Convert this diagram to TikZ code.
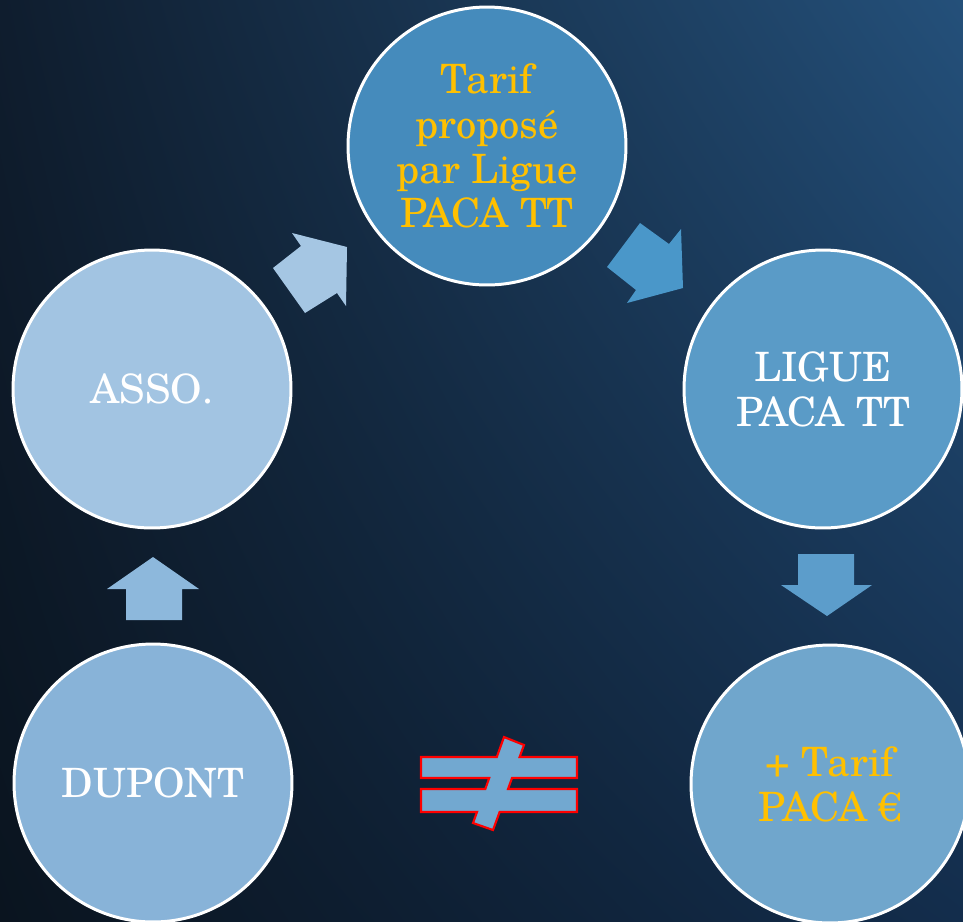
\documentclass[tikz,border=0pt]{standalone}
\usepackage{fontspec}
\setmainfont{TeX Gyre Schola}
\usetikzlibrary{positioning, shadings}

\definecolor{bgul}{HTML}{0F1D2E}
\definecolor{bgur}{HTML}{24507A}
\definecolor{bgll}{HTML}{0A141F}
\definecolor{bglr}{HTML}{132D4C}
\definecolor{gold}{HTML}{FFC000}
\definecolor{cTarif}{HTML}{458BBC}
\definecolor{cAsso}{HTML}{A2C4E2}
\definecolor{cLigue}{HTML}{5A9BC7}
\definecolor{cDupont}{HTML}{88B3D8}
\definecolor{cPaca}{HTML}{70A6CC}
\definecolor{aAsso}{HTML}{A5C6E3}
\definecolor{aTarif}{HTML}{4A97C9}
\definecolor{aLigue}{HTML}{5C9DCB}
\definecolor{aDupont}{HTML}{8DB8DC}
\definecolor{cNeq}{HTML}{72A8D0}

\tikzset{
  stage/.style={circle, draw=white, line width=1.7pt, minimum size=5.56cm,
    inner sep=0pt, align=center, text=white,
    font=\fontsize{23}{25.5}\selectfont},
  goldtext/.style={text=gold}
}

\begin{document}
\begin{tikzpicture}[x=0.02cm, y=-0.02cm]
    % Background
    \shade[upper left=bgul, upper right=bgur, lower left=bgll, lower right=bglr]
      (0,0) rectangle (963,921);
    \useasboundingbox (0,0) rectangle (963,921);

    % Nodes
    \node[stage, fill=cTarif, goldtext] (tarif) at (487,146)
      {Tarif\\proposé\\par Ligue\\PACA TT};
    \node[stage, fill=cAsso] (asso) at (152,389) {ASSO.};
    \node[stage, fill=cLigue] (ligue) at (823,389) {LIGUE\\PACA TT};
    \node[stage, fill=cDupont] (dupont) at (153,783) {DUPONT};
    \node[stage, fill=cPaca, goldtext] (paca) at (830,784) {+ Tarif\\PACA €};

    % Arrows
    \fill[aDupont] (153,557) -- (199,589) -- (182,589) -- (182,620)
      -- (126,620) -- (126,589) -- (107,589) -- cycle;
    \fill[aAsso] (292,233) -- (347,247) -- (346,306) -- (337,293)
      -- (305,313) -- (273,268) -- (301,246) -- cycle;
    \fill[aTarif] (607,267) -- (640,223) -- (669,244) -- (681,229)
      -- (683,288) -- (627,303) -- (636,290) -- cycle;
    \fill[aLigue] (798,554) -- (854,554) -- (854,585) -- (872,585)
      -- (827,616) -- (781,585) -- (798,585) -- cycle;

    % Not equal
    \filldraw[fill=cNeq, draw=red, line width=1.2pt, line join=miter]
      (504,737) -- (524,745) -- (519.6,757) -- (577,757) -- (577,778)
      -- (512,778) -- (508,789) -- (577,789) -- (577,812) -- (499.6,812)
      -- (493,830) -- (473,823) -- (477,812) -- (421,812) -- (421,789)
      -- (485.3,789) -- (489.2,778) -- (421,778) -- (421,757)
      -- (496.8,757) -- cycle;
\end{tikzpicture}
\end{document}
